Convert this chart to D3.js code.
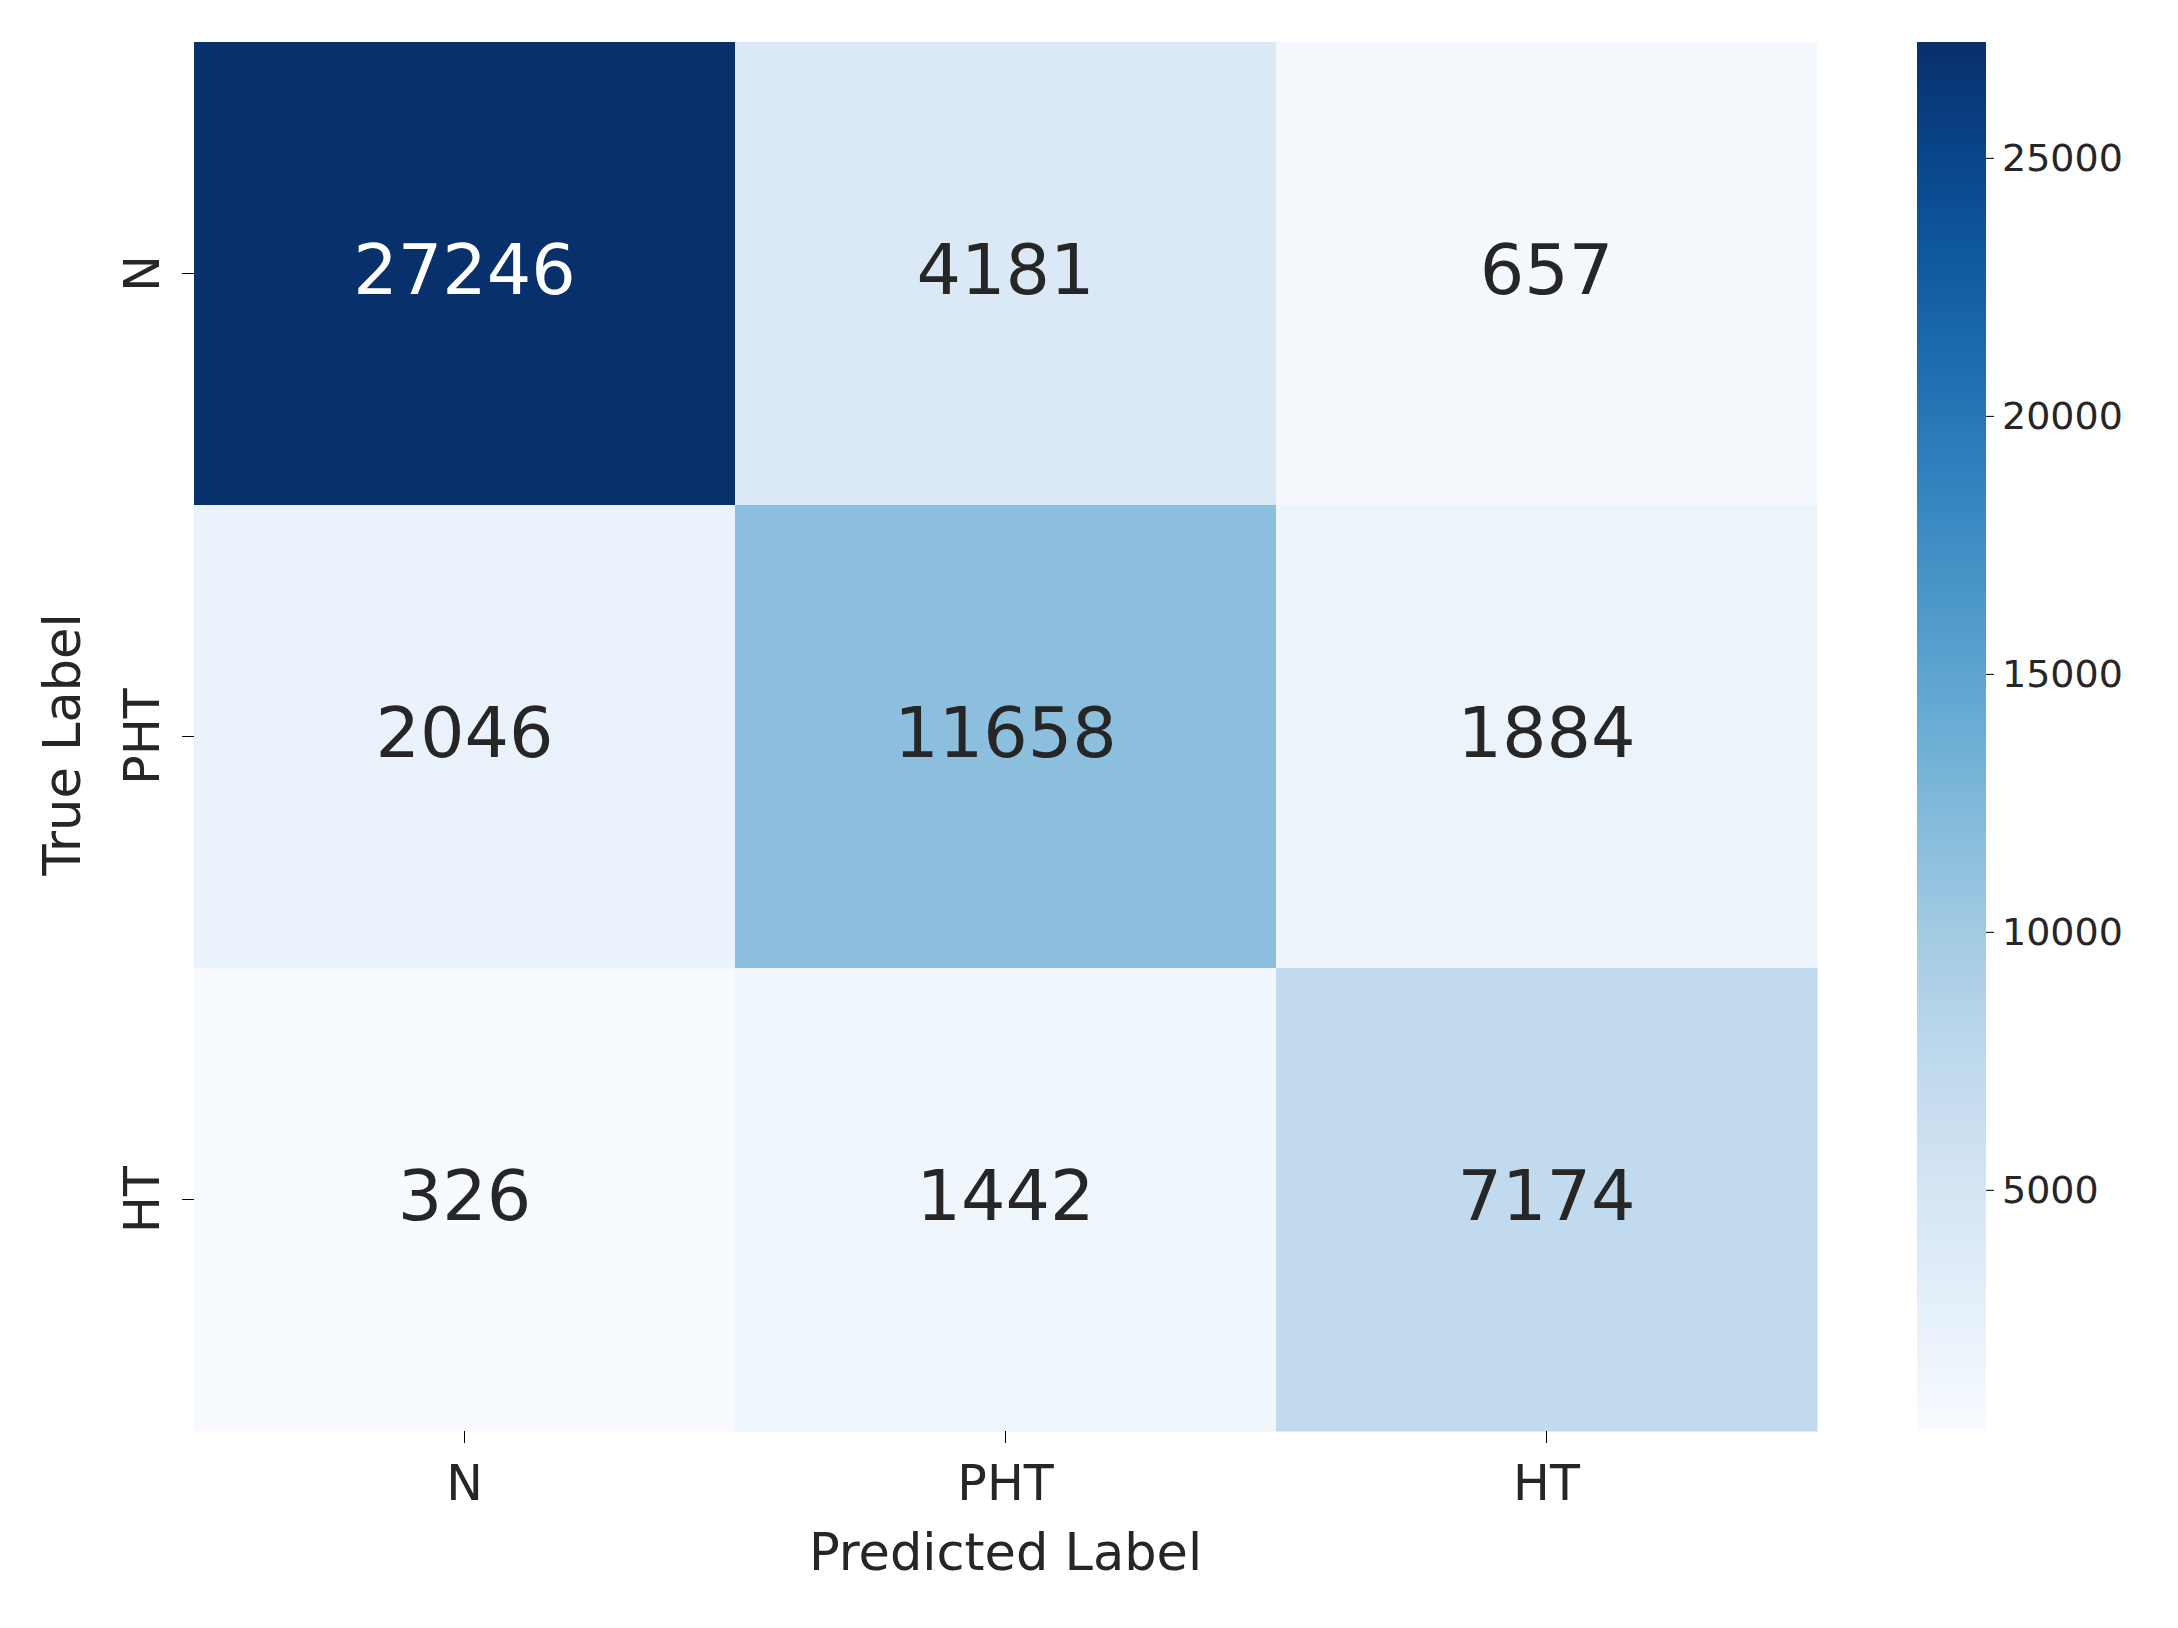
<!DOCTYPE html>
<html><head><meta charset="utf-8">
<script src="https://cdn.jsdelivr.net/npm/d3@7"></script>
<style>body{margin:0;background:#fff}text{font-family:"DejaVu Sans",sans-serif}</style>
</head><body>
<svg id="c" width="2178" height="1628"></svg>
<script>
const predLabels = ["N","PHT","HT"];
const trueLabels = ["N","PHT","HT"];
const matrix = [
  [27246, 4181, 657],
  [2046, 11658, 1884],
  [326, 1442, 7174]
];
const cbTicks = [5000,10000,15000,20000,25000];

const svg = d3.select("#c");
const L=194,R=1817,T=42,B=1431;
const x = d3.scaleBand().domain(predLabels).range([L,R]);
const y = d3.scaleBand().domain(trueLabels).range([T,B]);
const flat = matrix.flat();
const vmin = d3.min(flat), vmax = d3.max(flat);
const color = d3.scaleSequential(d3.interpolateBlues).domain([vmin,vmax]);

const cells=[];
matrix.forEach((row,i)=>row.forEach((v,j)=>cells.push({r:trueLabels[i],c:predLabels[j],v})));
svg.selectAll("rect.cell").data(cells).enter().append("rect")
  .attr("x",d=>x(d.c)).attr("y",d=>y(d.r)).attr("width",x.bandwidth()+0.5).attr("height",y.bandwidth()+0.5)
  .attr("fill",d=>color(d.v));
svg.selectAll("text.val").data(cells).enter().append("text")
  .attr("x",d=>x(d.c)+x.bandwidth()/2).attr("y",d=>y(d.r)+y.bandwidth()/2-4)
  .attr("text-anchor","middle").attr("dominant-baseline","central")
  .attr("font-size",70).attr("fill",d=>d.v>(vmin+vmax)/2?"#fff":"#262626").text(d=>d.v);

const xa = svg.append("g").attr("transform",`translate(0,${B})`).call(d3.axisBottom(x).tickSize(12).tickPadding(22));
xa.select(".domain").remove();
xa.selectAll("text").attr("font-size",49).attr("fill","#262626").attr("font-family","DejaVu Sans");
const ya = svg.append("g").attr("transform",`translate(${L},0)`).call(d3.axisLeft(y).tickSize(12));
ya.select(".domain").remove();
ya.selectAll("text").attr("font-size",49).attr("fill","#262626").attr("font-family","DejaVu Sans")
  .attr("text-anchor","middle").attr("dy",0)
  .attr("transform","rotate(-90,-52,0)").attr("x",-52).attr("y",0).attr("dominant-baseline","central");

svg.append("text").attr("x",(L+R)/2).attr("y",1570).attr("text-anchor","middle").attr("font-size",51).attr("fill","#262626").text("Predicted Label");
svg.append("text").attr("transform",`translate(80,${(T+B)/2+8}) rotate(-90)`).attr("text-anchor","middle").attr("font-size",51).attr("fill","#262626").text("True Label");

// colorbar
const cbL=1917,cbW=69;
const cy = d3.scaleLinear().domain([vmin,vmax]).range([B,T]);
const defs=svg.append("defs");
const g=defs.append("linearGradient").attr("id","cb").attr("x1",0).attr("y1",1).attr("x2",0).attr("y2",0);
d3.range(0,1.0001,0.05).forEach(t=>g.append("stop").attr("offset",t).attr("stop-color",d3.interpolateBlues(t)));
svg.append("rect").attr("x",cbL).attr("y",T).attr("width",cbW).attr("height",B-T).attr("fill","url(#cb)");
const ca=svg.append("g").attr("transform",`translate(${cbL+cbW},0)`).call(d3.axisRight(cy).tickValues(cbTicks).tickSize(8).tickPadding(8).tickFormat(d3.format("d")));
ca.select(".domain").remove();
ca.selectAll("text").attr("font-size",38).attr("fill","#262626").attr("font-family","DejaVu Sans");
</script></body></html>
